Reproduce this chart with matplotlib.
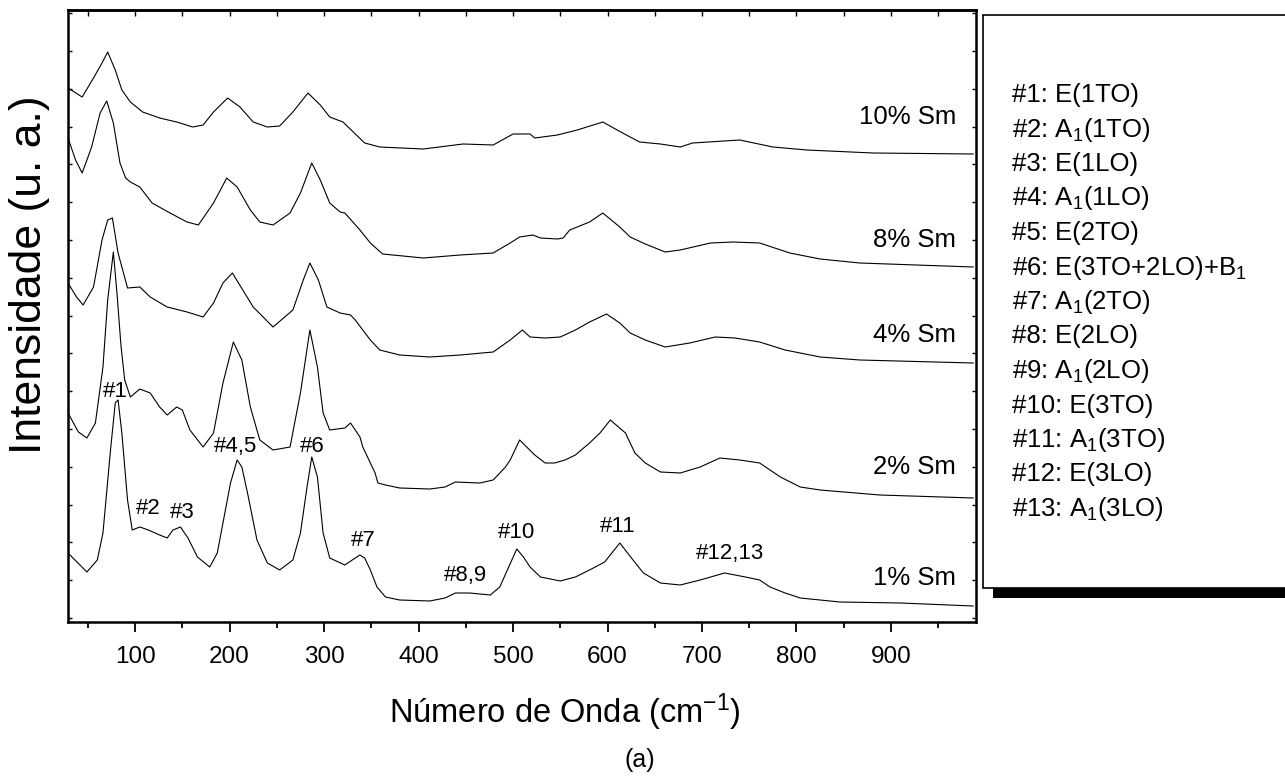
import numpy as np
import matplotlib
matplotlib.use("Agg")
import matplotlib.pyplot as plt
from matplotlib.patches import Rectangle
from matplotlib.ticker import MultipleLocator, FixedLocator, NullFormatter

plt.rcParams['font.family'] = ['Liberation Sans', 'DejaVu Sans']
plt.rcParams['mathtext.fontset'] = 'custom'
plt.rcParams['mathtext.rm'] = 'Liberation Sans'
plt.rcParams['mathtext.it'] = 'Liberation Sans:italic'

# Raman spectra (wavenumber in cm-1, intensity in arbitrary units, offsets included)
wn_10 = [29, 44, 56, 65, 71, 79, 86, 95, 108, 126, 144, 161, 172, 183, 198, 211, 225, 240, 253, 267,
         283, 296, 306, 320, 343, 359, 405, 447, 479, 500, 518, 523, 547, 568, 595, 616, 634, 656, 677, 690,
         740, 775, 811, 881, 987]
int_10 = [534, 525, 544, 559, 570, 552, 532, 520, 510, 504, 500, 495, 497, 510, 524, 515, 500, 495, 496, 510,
          529, 517, 505, 500, 479, 475, 473, 478, 477, 488, 488, 484, 487, 492, 500, 489, 480, 478, 475, 479,
          482, 475, 472, 469, 468]

wn_8 = [29, 37, 44, 54, 63, 70, 77, 84, 90, 95, 105, 118, 137, 155, 167, 183, 197, 208, 222, 232,
        246, 264, 275, 287, 296, 306, 317, 322, 338, 349, 362, 405, 444, 479, 497, 507, 521, 529, 547, 553,
        560, 581, 595, 613, 624, 640, 661, 677, 709, 733, 761, 793, 825, 867, 987]
int_8 = [484, 462, 449, 475, 509, 521, 499, 459, 444, 440, 435, 419, 409, 400, 397, 419, 444, 435, 412, 400,
         397, 409, 429, 459, 442, 419, 410, 409, 392, 379, 368, 364, 367, 369, 379, 385, 387, 384, 383, 384,
         392, 400, 409, 395, 385, 378, 370, 372, 379, 380, 379, 369, 363, 359, 355]

wn_4 = [29, 38, 45, 56, 65, 71, 76, 82, 92, 105, 116, 134, 155, 172, 183, 193, 203, 214, 225, 246,
        267, 278, 285, 294, 303, 317, 328, 333, 349, 359, 380, 412, 444, 479, 497, 510, 518, 534, 550, 566,
        581, 599, 613, 624, 640, 661, 687, 714, 735, 761, 788, 825, 867, 987]
int_4 = [339, 325, 317, 335, 382, 402, 404, 369, 334, 335, 325, 315, 310, 305, 319, 339, 349, 332, 315, 295,
         312, 342, 359, 342, 315, 309, 307, 302, 282, 272, 267, 265, 267, 270, 282, 292, 285, 284, 285, 292,
         300, 308, 299, 289, 282, 275, 279, 285, 284, 280, 272, 265, 262, 259]

wn_2 = [29, 40, 49, 58, 66, 71, 77, 81, 85, 89, 95, 105, 116, 126, 134, 144, 150, 158, 172, 183,
        193, 204, 213, 222, 232, 246, 264, 275, 285, 293, 299, 306, 322, 328, 338, 341, 354, 357, 365, 380,
        412, 428, 439, 465, 479, 492, 497, 507, 523, 534, 544, 555, 566, 581, 592, 603, 619, 629, 640, 656,
        677, 698, 719, 740, 761, 783, 804, 825, 888, 987]
int_2 = [209, 190, 184, 199, 255, 322, 370, 327, 277, 242, 225, 233, 229, 215, 207, 215, 212, 192, 175, 189,
         239, 280, 262, 215, 182, 172, 175, 229, 292, 255, 209, 192, 194, 199, 185, 175, 149, 139, 137, 134,
         133, 135, 140, 139, 142, 155, 162, 182, 167, 159, 159, 162, 167, 179, 189, 202, 189, 169, 159, 150,
         149, 155, 164, 162, 159, 145, 135, 132, 127, 124]

wn_1 = [29, 49, 60, 66, 74, 79, 82, 86, 92, 97, 105, 114, 126, 134, 140, 148, 156, 166, 179, 187,
        193, 201, 208, 213, 219, 229, 240, 253, 267, 275, 282, 287, 293, 299, 306, 322, 333, 338, 343, 349,
        356, 365, 380, 412, 428, 439, 454, 476, 486, 494, 504, 511, 518, 529, 550, 566, 581, 597, 613, 627,
        638, 656, 677, 698, 724, 746, 761, 772, 788, 804, 846, 910, 987]
int_1 = [69, 50, 62, 89, 172, 219, 222, 189, 122, 92, 95, 92, 87, 84, 92, 95, 84, 65, 55, 69,
         99, 139, 162, 155, 129, 82, 59, 52, 62, 89, 135, 165, 145, 89, 64, 57, 64, 67, 64, 52,
         35, 25, 22, 21, 24, 29, 29, 27, 35, 52, 73, 65, 55, 45, 41, 45, 52, 60, 79, 62,
         49, 39, 37, 42, 49, 45, 42, 35, 29, 24, 20, 19, 16]

sample_names = ["10% Sm", "8% Sm", "4% Sm", "2% Sm", "1% Sm"]
sample_label_y = [505, 382, 287, 155, 44]

peak_labels = ["#1", "#2", "#3", "#4,5", "#6", "#7", "#8,9", "#10", "#11", "#12,13"]
peak_label_x = [79, 114, 150, 206, 288, 341, 450, 504, 611, 730]
peak_label_y = [230, 114, 109, 175, 175, 82, 46, 89, 95, 69]

mode_list = ["#1: E(1TO)", "#2: A$_1$(1TO)", "#3: E(1LO)", "#4: A$_1$(1LO)", "#5: E(2TO)",
             "#6: E(3TO+2LO)+B$_1$", "#7: A$_1$(2TO)", "#8: E(2LO)", "#9: A$_1$(2LO)",
             "#10: E(3TO)", "#11: A$_1$(3TO)", "#12: E(3LO)", "#13: A$_1$(3LO)"]

W, H = 1285, 783
fig = plt.figure(figsize=(W / 100, H / 100), dpi=100)
ax = fig.add_axes([68 / W, 1 - 622 / H, 908 / W, 612 / H])

spectra = [(wn_10, int_10), (wn_8, int_8), (wn_4, int_4), (wn_2, int_2), (wn_1, int_1)]
for wn, inten in spectra:
    ax.plot(wn, inten, color='black', lw=0.8)

for name, y in zip(sample_names, sample_label_y):
    ax.text(969, y, name, ha='right', va='center', fontsize=18.5)

for lab, x, y in zip(peak_labels, peak_label_x, peak_label_y):
    ax.text(x, y, lab, ha='center', va='center', fontsize=16)

ax.set_xlim(29, 990)
ax.set_ylim(0, 612)

ax.xaxis.set_major_locator(MultipleLocator(100))
ax.xaxis.set_minor_locator(MultipleLocator(50))
ax.tick_params(axis='x', which='major', direction='out', length=7, width=1.3, labelsize=17.5, pad=10)
ax.tick_params(axis='x', which='minor', direction='out', length=4, width=1.3)
ax.yaxis.set_major_locator(FixedLocator(np.arange(4, 612, 37.8)))
ax.tick_params(axis='y', direction='in', left=True, right=True, length=3, width=1,
               labelleft=False)

secx = ax.secondary_xaxis('top')
secx.xaxis.set_major_locator(MultipleLocator(50))
secx.xaxis.set_major_formatter(NullFormatter())
secx.tick_params(direction='in', length=4, width=1)

for sp in ax.spines.values():
    sp.set_linewidth(1.8)
secx.spines['top'].set_linewidth(1.8)

fig.text(565 / W, 1 - 712 / H, "Número de Onda (cm$^{-1}$)", ha='center', va='center', fontsize=23.5)
fig.text(30 / W, 1 - 275 / H, "Intensidade (u. a.)", ha='center', va='center', rotation=90, fontsize=32)
fig.text(640 / W, 1 - 760 / H, "(a)", ha='center', va='center', fontsize=18)

# mode assignment box with shadow
fig.patches.append(Rectangle((993 / W, 1 - 598 / H), 400 / W, 573 / H, transform=fig.transFigure,
                             facecolor='black', edgecolor='none', figure=fig))
fig.patches.append(Rectangle((983 / W, 1 - 588 / H), 400 / W, 573 / H, transform=fig.transFigure,
                             facecolor='white', edgecolor='black', lw=1.2, figure=fig))
for i, m in enumerate(mode_list):
    fig.text(1012 / W, 1 - (102 + 34.5 * i) / H, m, ha='left', va='baseline', fontsize=18.5)

fig.savefig("out.png", dpi=100)
